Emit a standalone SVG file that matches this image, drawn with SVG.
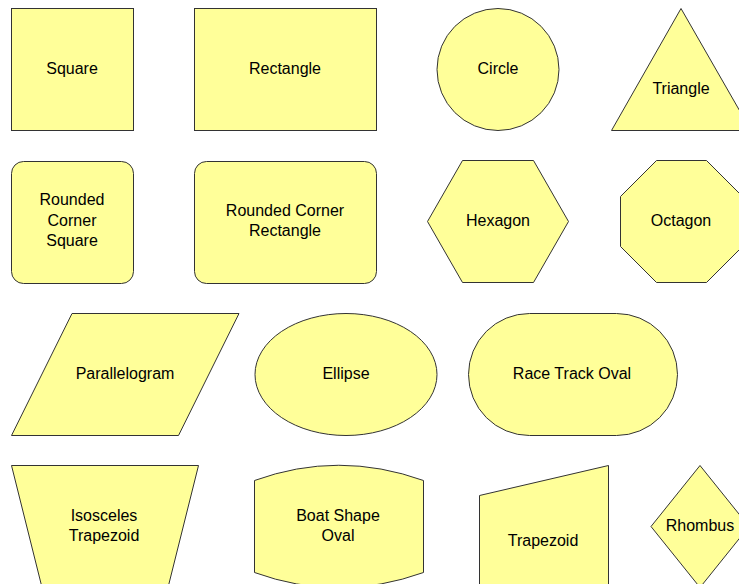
<svg xmlns="http://www.w3.org/2000/svg" width="739" height="584" viewBox="0 0 739 584">
<style>
.s{fill:#ffff99;stroke:#333;stroke-width:1}
text{font-family:"Liberation Sans",Arial,sans-serif;font-size:16px;fill:#000;text-anchor:middle}
</style>
<rect width="739" height="584" fill="#fff"/>
<g id="square"><rect class="s" x="11.5" y="8.5" width="122" height="122"/><text x="72" y="74">Square</text></g>
<g id="rectangle"><rect class="s" x="194.5" y="8.5" width="182" height="122"/><text x="285" y="74">Rectangle</text></g>
<g id="circle"><circle class="s" cx="498" cy="69.5" r="61"/><text x="498" y="74">Circle</text></g>
<g id="triangle"><polygon class="s" points="681,8.5 751,130.5 611.5,130.5"/><text x="681" y="94">Triangle</text></g>
<g id="rounded-square"><rect class="s" x="11.5" y="161.5" width="122" height="122" rx="12"/><text x="72" y="205">Rounded</text><text x="72" y="226">Corner</text><text x="72" y="246">Square</text></g>
<g id="rounded-rectangle"><rect class="s" x="194.5" y="161.5" width="182" height="122" rx="12"/><text x="285" y="216">Rounded Corner</text><text x="285" y="236">Rectangle</text></g>
<g id="hexagon"><polygon class="s" points="427.5,221.5 462.5,160.5 533.5,160.5 568.5,221.5 533.5,282.5 462.5,282.5"/><text x="498" y="226">Hexagon</text></g>
<g id="octagon"><polygon class="s" points="656.5,160.5 706.5,160.5 742.5,196.5 742.5,246.5 706.5,282.5 656.5,282.5 620.5,246.5 620.5,196.5"/><text x="681" y="226">Octagon</text></g>
<g id="parallelogram"><polygon class="s" points="72,313.5 239,313.5 178.5,435.5 11.5,435.5"/><text x="125" y="379">Parallelogram</text></g>
<g id="ellipse"><ellipse class="s" cx="346" cy="374.5" rx="91" ry="61"/><text x="346" y="379">Ellipse</text></g>
<g id="race-track-oval"><rect class="s" x="468.5" y="313.5" width="209" height="122" rx="61" ry="61"/><text x="572" y="379">Race Track Oval</text></g>
<g id="isosceles-trapezoid"><polygon class="s" points="11.5,465.5 198.5,465.5 168,587.5 42,587.5"/><text x="104" y="521">Isosceles</text><text x="104" y="541">Trapezoid</text></g>
<g id="boat-shape-oval"><path class="s" d="M254.5,480.5 Q338.5,450 423.5,480.5 L423.5,572.5 Q338.5,603 254.5,572.5 Z"/><text x="338" y="521">Boat Shape</text><text x="338" y="541">Oval</text></g>
<g id="trapezoid"><polygon class="s" points="479.5,495.5 608.5,465.5 608.5,587.5 479.5,587.5"/><text x="543" y="546">Trapezoid</text></g>
<g id="rhombus"><polygon class="s" points="700,465.5 749,526.5 700,587.5 651,526.5"/><text x="700" y="531">Rhombus</text></g>
<g id="connectors"></g>
</svg>
